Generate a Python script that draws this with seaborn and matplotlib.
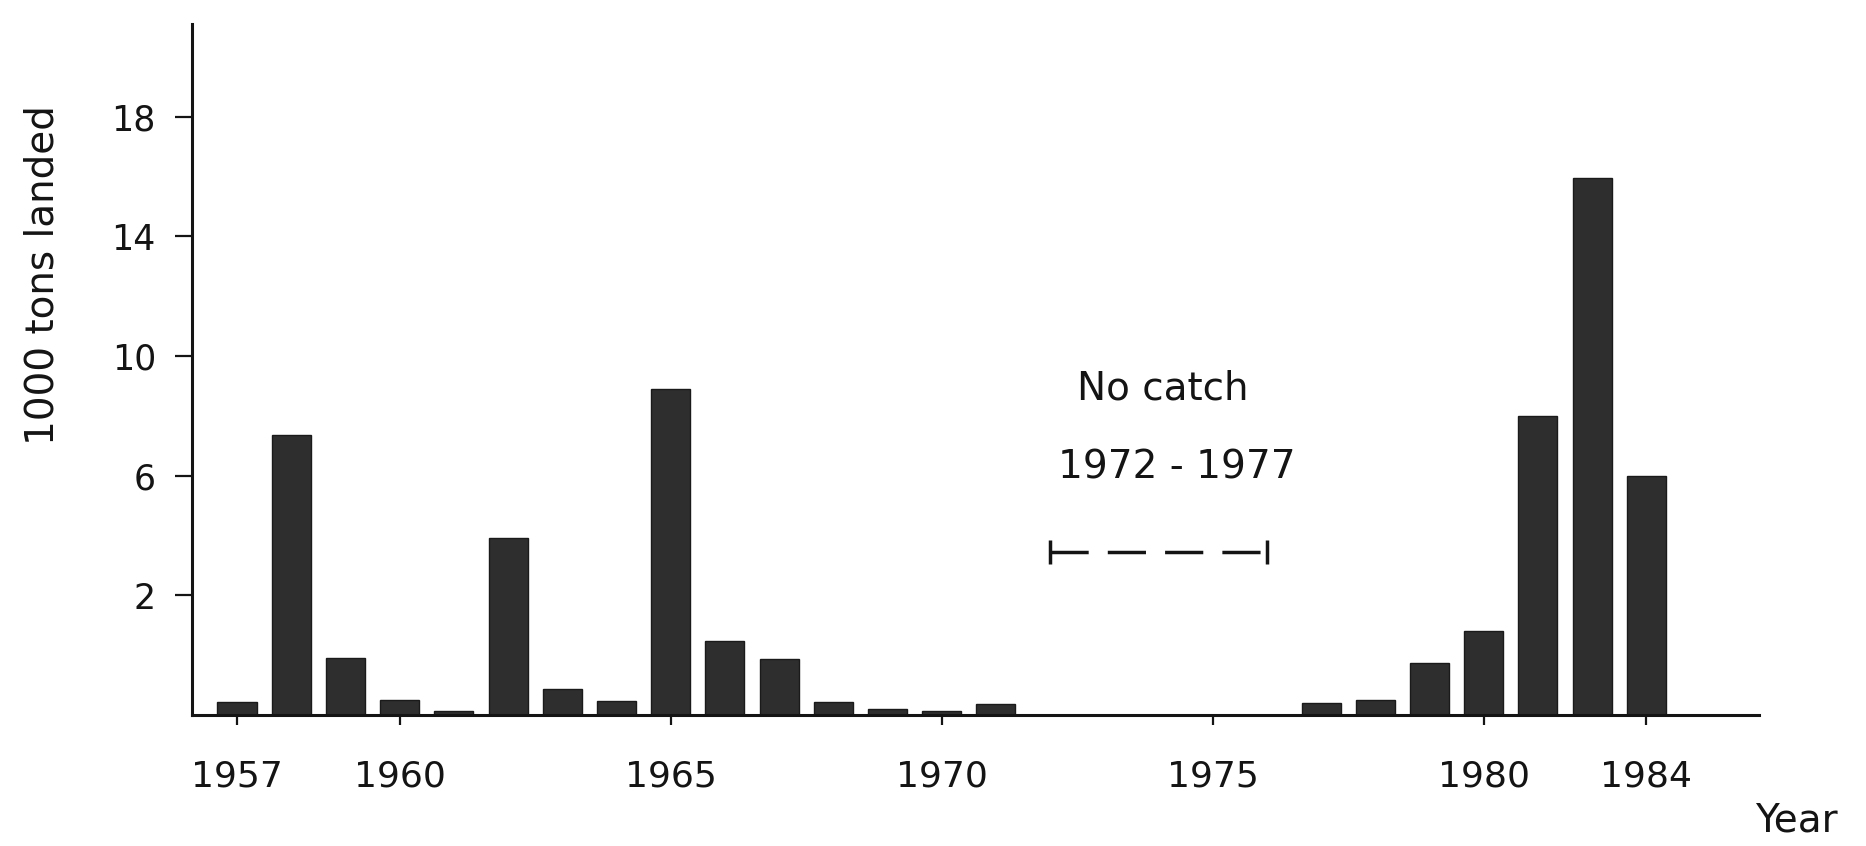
import matplotlib
matplotlib.use("Agg")
import matplotlib.pyplot as plt
import pandas as pd
import seaborn as sns

# ---------------------------------------------------------------------------
# Data: catch in 1000 tons, read as bar height above the drawn baseline
# ---------------------------------------------------------------------------
years = [1957, 1958, 1959, 1960, 1961, 1962, 1963, 1964, 1965, 1966, 1967,
         1968, 1969, 1970, 1971,
         1978, 1979, 1980, 1981, 1982, 1983, 1984]
catch = [0.43, 9.36, 1.9, 0.5, 0.13, 5.92, 0.87, 0.47, 10.9, 2.47, 1.89,
         0.43, 0.2, 0.13, 0.37,
         0.4, 0.5, 1.73, 2.8, 10.0, 17.96, 8.0]
no_catch = (1972, 1977)

# tick labels as printed in the original figure
x_ticks = [1957, 1960, 1965, 1970, 1975, 1980, 1983]
x_tick_labels = ["1957", "1960", "1965", "1970", "1975", "1980", "1984"]
# the printed y labels sit two units below their tick marks
y_ticks = [4, 8, 12, 16, 20]
y_tick_labels = ["2", "6", "10", "14", "18"]

INK = "#141414"
BAR = "#2e2e2e"


def drawn(year):
    """The original squeezes the 1972-77 gap by one year."""
    return year if year <= no_catch[0] else year - 1


sns.set_style("white")
plt.rcParams["font.family"] = ["DejaVu Sans"]

df = pd.DataFrame({"year": years, "catch": catch})
df["pos"] = [drawn(y) for y in df["year"]]

fig = plt.figure(figsize=(18.66, 8.46), dpi=100)
ax = fig.add_axes([0.1029, 0.1548, 0.8398, 0.8168])

sns.barplot(data=df, x="pos", y="catch", native_scale=True, width=0.72,
            color=BAR, saturation=1, edgecolor="#1a1a1a", linewidth=1,
            errorbar=None, ax=ax)

ax.set_xlim(1956.17, 1985.08)
ax.set_ylim(0, 23.1)

for side in ["top", "right"]:
    ax.spines[side].set_visible(False)
for side in ["left", "bottom"]:
    ax.spines[side].set_color(INK)
    ax.spines[side].set_linewidth(2.2)

ax.set_xticks(x_ticks, x_tick_labels)
ax.set_yticks(y_ticks, y_tick_labels)
ax.tick_params(axis="x", bottom=True, direction="out", length=7, width=1.6,
               pad=25, labelsize=26, colors=INK)
ax.tick_params(axis="y", left=True, direction="out", length=12, width=1.6,
               pad=14, labelsize=25, colors=INK)

ax.set_ylabel("1000 tons landed", fontsize=28, color=INK, va="center")
ax.yaxis.set_label_coords(-0.0957, 0.637)
ax.set_xlabel("Year", fontsize=28, color=INK, va="center")
ax.xaxis.set_label_coords(1.024, -0.153)

# "No catch" note with its dashed bracket
ax.text(1974.08, 10.9, "No catch", ha="center", va="center",
        fontsize=28, color=INK)
ax.text(1974.34, 8.26, "1972 - 1977", ha="center", va="center",
        fontsize=28, color=INK)
x0, x1 = drawn(no_catch[0]), drawn(no_catch[1])
ax.plot([x0, x1], [5.45, 5.45], color=INK, lw=2.5,
        linestyle=(0, (11, 5.5)), solid_capstyle="round")
ax.vlines([x0, x1], 5.05, 5.85, color=INK, lw=2.5)

fig.savefig("out.png", dpi=100)
